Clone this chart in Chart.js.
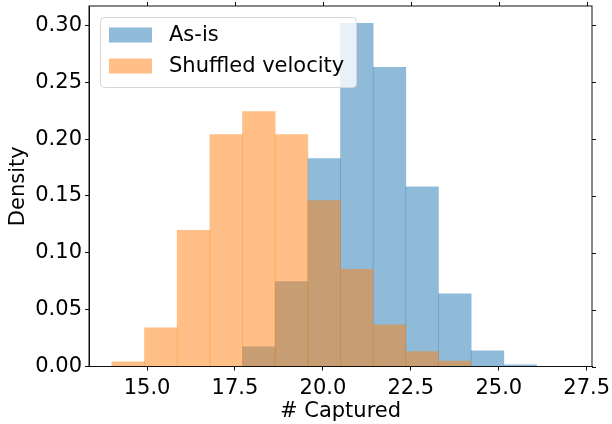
<!DOCTYPE html>
<html>
<head>
<meta charset="utf-8">
<script src="https://cdn.jsdelivr.net/npm/chart.js@4.4.1/dist/chart.umd.min.js"></script>
<style>
  body { margin: 0; background: #fff; }
  #wrap { width: 612px; height: 424px; }
</style>
</head>
<body>
<div id="wrap"><canvas id="myChart" width="612" height="424"></canvas></div>
<script>
// bin centres of the histogram (# captured)
const binCenters = [14.464, 15.393, 16.321, 17.25, 18.179, 19.107, 20.036,
                    20.964, 21.893, 22.821, 23.75, 24.679, 25.607, 26.536];

const asIs = [0, 0, 0, 0, 0.0173, 0.0746, 0.1828,
              0.3017, 0.263, 0.158, 0.064, 0.0138, 0.0015, 0];

const shuffled = [0.0041, 0.034, 0.1197, 0.204, 0.2242, 0.204, 0.1459,
                  0.0854, 0.0367, 0.0132, 0.0047, 0, 0, 0];

const xTicks = [15.0, 17.5, 20.0, 22.5, 25.0, 27.5];
const yTicks = [0.00, 0.05, 0.10, 0.15, 0.20, 0.25, 0.30];

const FONT = 'DejaVu Sans';
const FS = 21;

function toPoints(values) {
  return binCenters.map((x, i) => ({ x: x, y: values[i] }));
}

// spines on all sides + outward ticks on top and right, like matplotlib
const frame = {
  id: 'frame',
  afterDraw(chart) {
    const { ctx, chartArea: a, scales } = chart;
    ctx.save();
    ctx.strokeStyle = '#111';
    ctx.lineWidth = 1;
    ctx.strokeRect(a.left, a.top, a.right - a.left, a.bottom - a.top);
    ctx.beginPath();
    xTicks.forEach(v => {
      const px = Math.round(scales.x.getPixelForValue(v)) + 0.5;
      ctx.moveTo(px, a.top);
      ctx.lineTo(px, a.top - 4);
    });
    yTicks.forEach(v => {
      const py = Math.round(scales.y.getPixelForValue(v)) + 0.5;
      ctx.moveTo(a.right, py);
      ctx.lineTo(a.right + 4, py);
    });
    ctx.stroke();
    ctx.restore();
  }
};

// legend in the upper left corner of the axes
const insideLegend = {
  id: 'insideLegend',
  afterDatasetsDraw(chart) {
    const { ctx, chartArea: a } = chart;
    const x0 = a.left + 11, y0 = a.top + 11;
    const w = 256, h = 70;
    ctx.save();
    ctx.beginPath();
    ctx.roundRect(x0 + 0.5, y0 + 0.5, w, h, 4);
    ctx.fillStyle = 'rgba(255,255,255,0.8)';
    ctx.fill();
    ctx.strokeStyle = '#d6d6d6';
    ctx.lineWidth = 1;
    ctx.stroke();
    ctx.font = FS + 'px "' + FONT + '"';
    ctx.textBaseline = 'middle';
    ctx.textAlign = 'left';
    chart.data.datasets.forEach((ds, i) => {
      const cy = y0 + 18 + i * 31;
      ctx.fillStyle = ds.backgroundColor;
      ctx.fillRect(x0 + 9, cy - 7.5, 43, 15);
      ctx.fillStyle = '#000';
      ctx.fillText(ds.label, x0 + 69, cy + 1);
    });
    ctx.restore();
  }
};

const ctx = document.getElementById('myChart').getContext('2d');

new Chart(ctx, {
  type: 'bar',
  data: {
    datasets: [
      {
        label: 'As-is',
        data: toPoints(asIs),
        backgroundColor: 'rgba(31,119,180,0.5)',
        order: 2,
        grouped: false,
        barPercentage: 1,
        categoryPercentage: 1,
      },
      {
        label: 'Shuffled velocity',
        data: toPoints(shuffled),
        backgroundColor: 'rgba(255,127,14,0.5)',
        order: 1,
        grouped: false,
        barPercentage: 1,
        categoryPercentage: 1,
      },
    ],
  },
  options: {
    responsive: false,
    animation: false,
    layout: { padding: { top: 6, right: 20, left: 0, bottom: 0 } },
    plugins: {
      legend: { display: false },
      tooltip: { enabled: false },
    },
    scales: {
      x: {
        type: 'linear',
        min: 13.35,
        max: 27.65,
        offset: false,
        afterBuildTicks: axis => { axis.ticks = xTicks.map(v => ({ value: v })); },
        afterFit: axis => {
          axis.height = 57.5;
          axis.paddingLeft = 0;
          axis.paddingRight = 0;
        },
        grid: { offset: false, drawOnChartArea: false, drawTicks: true, tickLength: 4, color: '#111' },
        border: { display: true, color: '#111' },
        ticks: {
          padding: 5,
          color: '#000',
          font: { family: FONT, size: FS },
          callback: v => v.toFixed(1),
        },
        title: {
          display: true,
          text: '# Captured',
          color: '#000',
          font: { family: FONT, size: FS },
          padding: { top: 0, bottom: 0 },
        },
      },
      y: {
        min: 0,
        max: 0.317,
        afterBuildTicks: axis => { axis.ticks = yTicks.map(v => ({ value: v })); },
        afterFit: axis => {
          axis.width = 89;
          axis.paddingTop = 0;
          axis.paddingBottom = 0;
        },
        grid: { drawOnChartArea: false, drawTicks: true, tickLength: 4, color: '#111' },
        border: { display: true, color: '#111' },
        ticks: {
          padding: 3,
          color: '#000',
          font: { family: FONT, size: FS },
          callback: v => v.toFixed(2),
        },
        title: {
          display: true,
          text: 'Density',
          color: '#000',
          font: { family: FONT, size: FS },
          padding: { top: 6, bottom: 0 },
        },
      },
    },
  },
  plugins: [frame, insideLegend],
});
</script>
</body>
</html>
